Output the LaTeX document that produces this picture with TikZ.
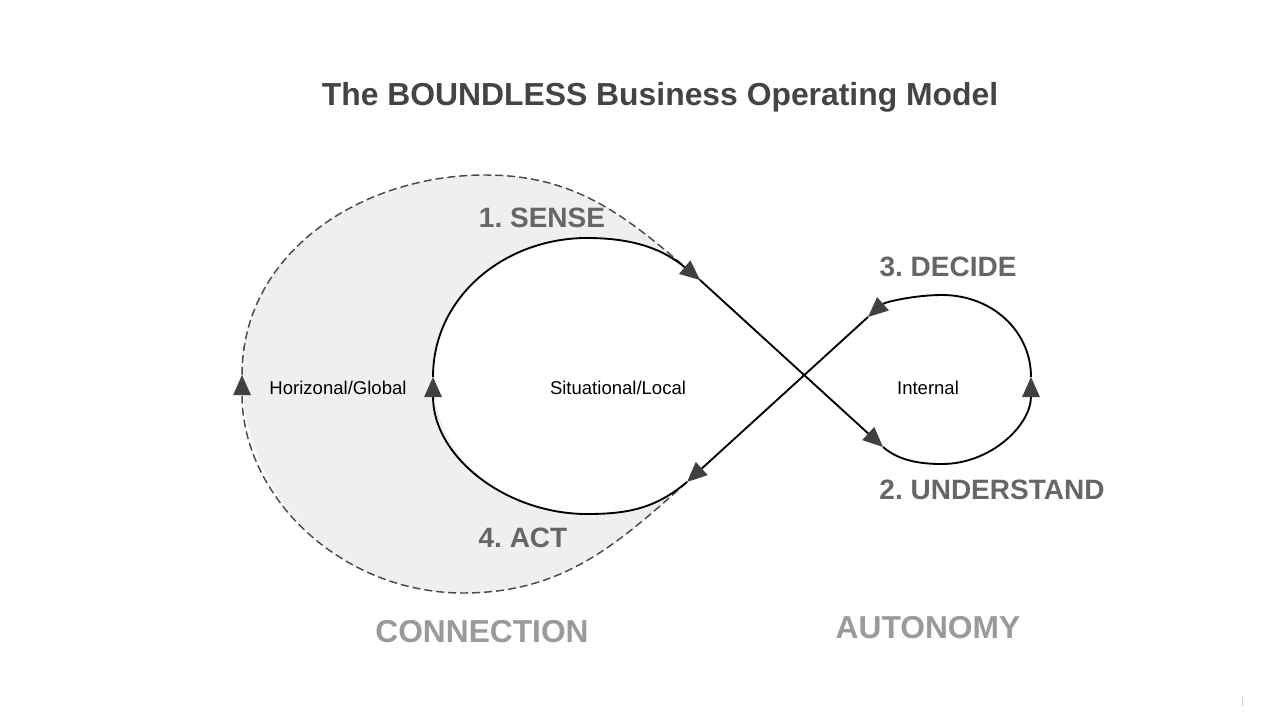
\documentclass[tikz,border=0pt]{standalone}
\usepackage{fontspec}
\setmainfont{Liberation Sans}
\usetikzlibrary{arrows.meta}
\definecolor{titlegray}{HTML}{444444}
\definecolor{stepgray}{HTML}{666666}
\definecolor{biggray}{HTML}{9A9A9A}
\definecolor{fillgray}{HTML}{EFEFEF}
\definecolor{tipgray}{HTML}{404040}
\definecolor{dashgray}{HTML}{4A4A4A}
\frenchspacing
\begin{document}
\begin{tikzpicture}[x=0.75pt,y=0.75pt,
  tip/.style={-{Triangle[length=15pt,width=13pt,color=tipgray]}},
  loopline/.style={line width=1.4pt, black},
  dashline/.style={line width=1.1pt, dashgray, dash pattern=on 6pt off 3pt},
  steplabel/.style={font=\fontsize{21}{24}\selectfont\bfseries, text=stepgray, inner sep=0pt},
  biglabel/.style={font=\fontsize{23.8}{28}\selectfont\bfseries, text=biggray, inner sep=0pt},
  smalllabel/.style={font=\fontsize{13.9}{16}\selectfont, text=black, inner sep=0pt}]
\useasboundingbox (0,0) rectangle (1280,-720);
% key points
\coordinate (L) at (433,-377);
\coordinate (T1) at (587,-238);
\coordinate (A1) at (700,-280);
\coordinate (X) at (803,-375);
\coordinate (B2) at (883,-447);
\coordinate (Bot2) at (942,-464);
\coordinate (R) at (1031,-377);
\coordinate (Top2) at (942,-295);
\coordinate (B1) at (868,-317);
\coordinate (A2) at (687,-482);
\coordinate (Bot1) at (587,-514);
\coordinate (DL) at (242,-375);
\coordinate (DTop) at (485,-175);
\coordinate (DBot) at (463,-593);
% grey region
\fill[fillgray] (A2) to[out=222,in=0] (DBot) to[out=180,in=270] (DL)
  to[out=90,in=180] (DTop) to[out=0,in=139] (A1) -- (X) -- cycle;
\fill[white] (A1) -- (X) -- (A2) to[out=220,in=0] (Bot1) to[out=180,in=270] (L)
  to[out=90,in=180] (T1) to[out=0,in=140] (A1) -- cycle;
% dashed outer loop
\draw[dashline, tip] (A2) to[out=222,in=0] (DBot) to[out=180,in=270] (DL);
\draw[dashline] (DL) to[out=90,in=180] (DTop) to[out=0,in=139] (A1);
% solid figure eight
\draw[loopline, tip] (L) to[out=90,in=180] (T1) to[out=0,in=140] (A1);
\draw[loopline, tip] (A1) -- (B2);
\draw[loopline, tip] (B2) .. controls (898,-460) and (918,-464) .. (Bot2)
  .. controls (991,-464) and (1031,-425) .. (R);
\draw[loopline, tip] (R) .. controls (1031,-331) and (992,-295) .. (Top2)
  .. controls (915,-295) and (885,-302) .. (B1);
\draw[loopline, tip] (B1) -- (A2);
\draw[loopline, tip] (A2) to[out=220,in=0] (Bot1) to[out=180,in=270] (L);
% texts
\node[font=\fontsize{23.9}{28}\selectfont\bfseries, text=titlegray, inner sep=0pt] (title) at (660,-97.5) {The BOUNDLESS Business Operating Model};
\node[steplabel] (sense) at (542,-218) {1. SENSE};
\node[steplabel] (decide) at (948,-267) {3. DECIDE};
\node[steplabel] (understand) at (992,-490) {2. UNDERSTAND};
\node[steplabel] (act) at (523,-538) {4. ACT};
\node[biglabel] (connection) at (482,-631.5) {CONNECTION};
\node[biglabel] (autonomy) at (928,-628) {AUTONOMY};
\node[smalllabel] (global) at (338,-388) {Horizonal/Global};
\node[smalllabel] (local) at (618,-388) {Situational/Local};
\node[smalllabel] (internal) at (928,-388) {Internal};
\draw[gray!40, line width=0.6pt] (1242,-697) -- (1242,-706);
\end{tikzpicture}
\end{document}
